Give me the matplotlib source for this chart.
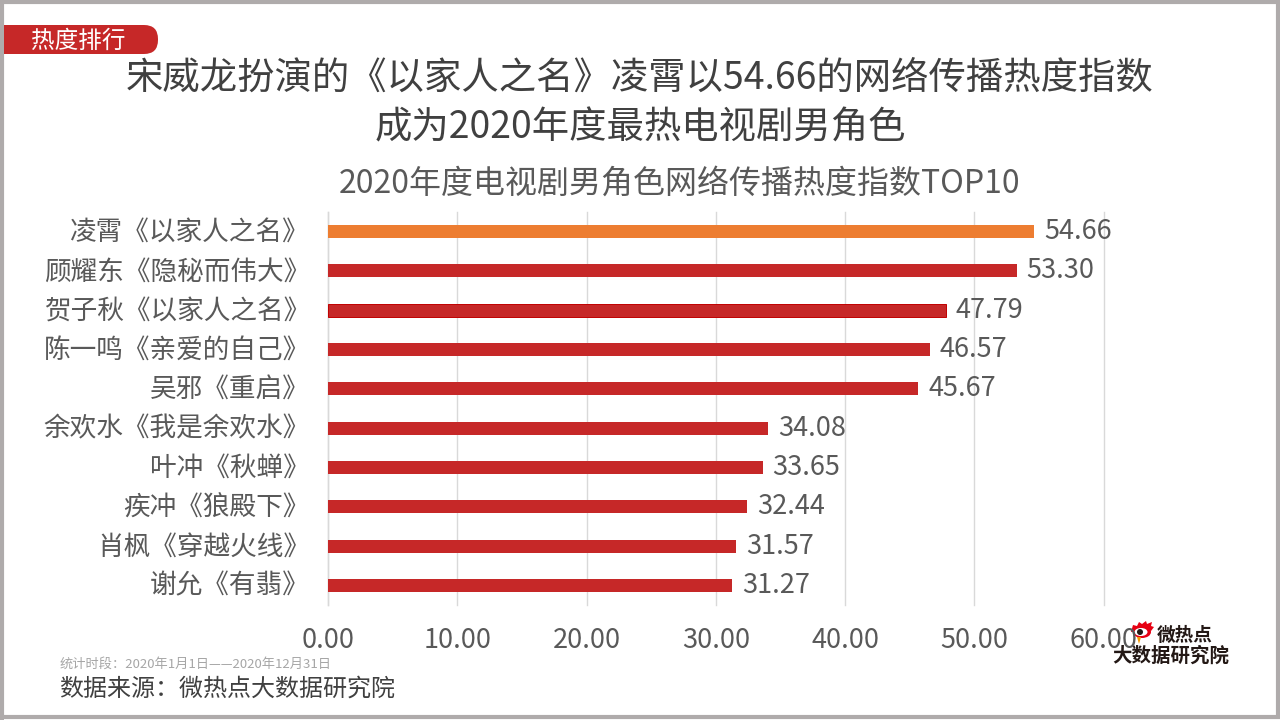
import matplotlib
matplotlib.use('Agg')
import matplotlib.pyplot as plt
from matplotlib.patches import Rectangle, FancyBboxPatch, Ellipse, Polygon
from matplotlib.transforms import ScaledTranslation

plt.rcParams['font.family'] = ['Noto Sans CJK SC', 'DejaVu Sans']

names = ['凌霄《以家人之名》', '顾耀东《隐秘而伟大》', '贺子秋《以家人之名》', '陈一鸣《亲爱的自己》',
         '吴邪《重启》', '余欢水《我是余欢水》', '叶冲《秋蝉》', '疾冲《狼殿下》',
         '肖枫《穿越火线》', '谢允《有翡》']
values = [54.66, 53.30, 47.79, 46.57, 45.67, 34.08, 33.65, 32.44, 31.57, 31.27]
ticks = [0, 10, 20, 30, 40, 50, 60]

RED = '#C62828'
ORANGE = '#ED7D31'
GRID = '#D9D9D9'
TXT = '#595959'

fig = plt.figure(figsize=(12.8, 7.2), dpi=100)

# overlay in pixel coords, for frame / tag / logo
bg = fig.add_axes([0, 0, 1, 1], zorder=0)
bg.set_xlim(0, 1280)
bg.set_ylim(720, 0)
bg.axis('off')

ax = fig.add_axes([328 / 1280, 1 - 605 / 720, (1103.5 - 328) / 1280, 393 / 720], zorder=1)
ax.patch.set_alpha(0)

colors = [ORANGE] + [RED] * 9
pos = list(range(len(names)))
bars = ax.barh(pos, values, height=0.33, color=colors, zorder=3)
bars[2].set_edgecolor('#C00000')
bars[2].set_linewidth(0.7)

for p, v in zip(pos, values):
    ax.annotate('%.2f' % v, (v, p), xytext=(7, 0), textcoords='offset points',
                va='center', ha='left', fontsize=19.5, color=TXT)

ax.set_xlim(0, 60)
ax.set_ylim(9.5, -0.5)
ax.set_xticks(ticks)
ax.set_xticklabels(['%.2f' % t for t in ticks], fontsize=19.5, color=TXT)
ax.set_yticks(pos)
ax.set_yticklabels(names, fontsize=19.2, color=TXT)
ax.tick_params(axis='both', length=0)
ax.tick_params(axis='y', pad=13)
ax.tick_params(axis='x', pad=15.5)
ax.grid(axis='x', color=GRID, linewidth=1, zorder=0)
for line in ax.get_xgridlines():
    line.set_clip_on(False)
for lab in ax.get_yticklabels():
    lab.set_transform(lab.get_transform() + ScaledTranslation(0, 2 / 100, fig.dpi_scale_trans))
for s in ['top', 'right', 'bottom']:
    ax.spines[s].set_visible(False)
ax.spines['left'].set_color(GRID)
ax.spines['left'].set_linewidth(1)

# frame
bg.add_patch(Rectangle((2, 2), 1276, 715, fill=False, edgecolor='#AFABAB', linewidth=3))

# red tag top left
bg.add_patch(FancyBboxPatch((-30, 25), 188, 29, boxstyle='round,pad=0,rounding_size=14',
                            facecolor=RED, edgecolor='none'))
bg.add_patch(Rectangle((0, 0), 4, 720, facecolor='#AFABAB', edgecolor='none'))
bg.text(78, 41, '热度排行', color='white', fontsize=17, fontweight='medium', ha='center', va='center')

# titles
bg.text(640, 78, '宋威龙扮演的《以家人之名》凌霄以54.66的网络传播热度指数', fontsize=26.9,
        color='#404040', ha='center', va='center')
bg.text(640, 128, '成为2020年度最热电视剧男角色', fontsize=26.9, color='#404040',
        ha='center', va='center')
bg.text(680, 184, '2020年度电视剧男角色网络传播热度指数TOP10', fontsize=23, color=TXT,
        ha='center', va='center')

# footer
bg.text(60, 664, '统计时段：2020年1月1日——2020年12月31日', fontsize=9.5, color='#A6A6A6',
        ha='left', va='center')
bg.text(59, 689, '数据来源：微热点大数据研究院', fontsize=17.3, color='#404040',
        ha='left', va='center')

# logo
spikes = [(1131, 632), (1133, 625), (1137, 626), (1139, 622), (1142, 624), (1146, 621), (1147, 624),
          (1152, 622), (1151, 626), (1154, 627), (1151, 631), (1142, 628), (1136, 632)]
bg.add_patch(Polygon(spikes, closed=True, facecolor='#E60012', edgecolor='none', zorder=5))
bg.add_patch(Ellipse((1142, 632), 18, 12, facecolor='#E60012', edgecolor='none', zorder=5))
bg.add_patch(Ellipse((1141, 632), 13, 8, facecolor='white', edgecolor='none', zorder=6))
bg.add_patch(Ellipse((1140, 632), 6, 6, facecolor='#231815', edgecolor='none', zorder=7))
bg.add_patch(Polygon([(1137, 637), (1141, 637), (1139, 644)], closed=True, facecolor='#F39800',
                     edgecolor='none', zorder=5))
bg.text(1185, 635, '微热点', fontsize=13.4, fontweight='bold', color='#231815', ha='center',
        va='center', zorder=5)
bg.text(1171, 656, '大数据研究院', fontsize=14, fontweight='bold', color='#231815', ha='center',
        va='center', zorder=5)

fig.savefig('out.png', dpi=100)
